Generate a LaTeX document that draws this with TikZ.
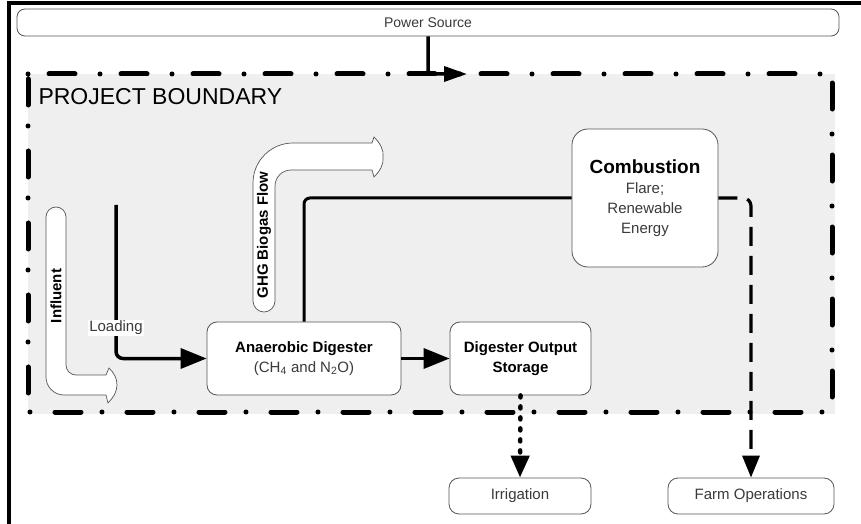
\documentclass[tikz,border=0pt]{standalone}
\usepackage{fontspec}
\setmainfont{Liberation Sans}
\usepackage{tikz}
\usetikzlibrary{arrows.meta,positioning,calc}

\definecolor{bndgray}{HTML}{EFEFEF}
\definecolor{boxline}{HTML}{555555}
\definecolor{txtgray}{HTML}{3A3A3A}

\begin{document}
\begin{tikzpicture}[x=1bp,y=-1bp,
    box/.style={draw=boxline, line width=0.8bp, fill=white, rounded corners=10bp,
        align=center, inner sep=0pt, text=txtgray, font=\fontsize{15bp}{20bp}\selectfont},
    flowshape/.style={draw=boxline, line width=0.7bp, fill=white},
    flowlabel/.style={rotate=90, font=\bfseries\fontsize{15bp}{18bp}\selectfont},
    mainflow/.style={line width=3.5bp, rounded corners=7bp, -{Triangle[length=26bp,width=20bp]}},
    gasline/.style={line width=3bp, rounded corners=6bp},
    pwrflow/.style={line width=3.5bp, rounded corners=4bp, -{Triangle[length=23bp,width=15bp]}},
    farmflow/.style={line width=3.2bp, rounded corners=8bp, dash pattern=on 19bp off 10bp,
        -{Triangle[length=22bp,width=17bp]}},
    irrflow/.style={line width=4.5bp, line cap=round, dash pattern=on 2bp off 9bp,
        -{Triangle[length=22bp,width=18bp]}},
    boundary/.style={line width=5bp, line cap=round, dash pattern=on 0bp off 21bp on 26bp off 25bp}]
    \useasboundingbox (0,0) rectangle (861,524);

    % Page frame
    \draw[line width=4bp] (9,524) -- (9,3.5) -- (861,3.5);

    % Project boundary
    \fill[bndgray] (28,74) rectangle (835,414);
    \draw[boundary] (28,74) -- (832,74) -- (832,412) -- (28,412) -- cycle;
    \node[anchor=base west, font=\fontsize{23bp}{26bp}\selectfont] (bndlbl) at (35,105) {PROJECT BOUNDARY};

    % Boxes
    \node[box, rounded corners=8bp, minimum width=822bp, minimum height=27bp,
        font=\fontsize{14bp}{16bp}\selectfont] (power) at (428,22.5) {Power Source};
    \node[box, minimum width=194bp, minimum height=73bp] (digester) at (304,358.5)
        {{\color{black}\bfseries Anaerobic Digester}\\(CH\textsubscript{4} and N\textsubscript{2}O)};
    \node[box, minimum width=141bp, minimum height=73bp, text=black,
        font=\bfseries\fontsize{15bp}{20bp}\selectfont] (storage) at (520.5,358.5)
        {Digester Output\\Storage};
    \node[box, rounded corners=16bp, minimum width=146bp, minimum height=138bp] (combustion) at (645,198)
        {{\color{black}\bfseries\fontsize{19bp}{22bp}\selectfont Combustion}\\Flare;\\Renewable\\Energy};
    \node[box, minimum width=142bp, minimum height=36bp] (irrigation) at (520,496) {Irrigation};
    \node[box, minimum width=166bp, minimum height=36bp] (farm) at (751,496) {Farm Operations};

    % Influent (bent arrow)
    \draw[flowshape] (46,217) arc[start angle=180, end angle=360, radius=10]
        -- (66,365) arc[start angle=180, end angle=90, radius=10]
        -- (106,375) -- (109,368) .. controls (114,373) and (117,378) .. (117,385)
        .. controls (117,392) and (113,398) .. (108,403) -- (106,395)
        -- (64,395) arc[start angle=90, end angle=180, radius=18] -- cycle;
    \node[flowlabel] (influent) at (56,296) {Influent};

    % GHG biogas flow (bent arrow)
    \draw[flowshape] (253,301) -- (253,183) arc[start angle=180, end angle=270, radius=40]
        -- (372,143) -- (374,137) .. controls (380,143) and (384,150) .. (383,157)
        .. controls (384,164) and (380,171) .. (374,177) -- (372,170)
        -- (291,170) arc[start angle=270, end angle=180, radius=16]
        -- (275,301) arc[start angle=0, end angle=180, radius=11] -- cycle;
    \node[flowlabel] (ghg) at (264,235) {GHG Biogas Flow};

    % Loading
    \coordinate (loadtop) at (116,205);
    \draw[mainflow] (loadtop) |- (digester.west);
    \node[fill=white, inner sep=1bp, text=txtgray, font=\fontsize{15bp}{18bp}\selectfont] (loading) at (116,328) {Loading};

    % Power
    \coordinate (pwrtip) at (467,74);
    \draw[pwrflow] (power.south) |- (pwrtip);

    % Gas and outputs
    \draw[gasline] (digester.north) |- (combustion.west);
    \draw[mainflow] (digester.east) -- (storage.west);
    \draw[irrflow] (storage.south) -- (irrigation.north);
    \draw[farmflow] (combustion.east) -| (farm.north);
\end{tikzpicture}
\end{document}
